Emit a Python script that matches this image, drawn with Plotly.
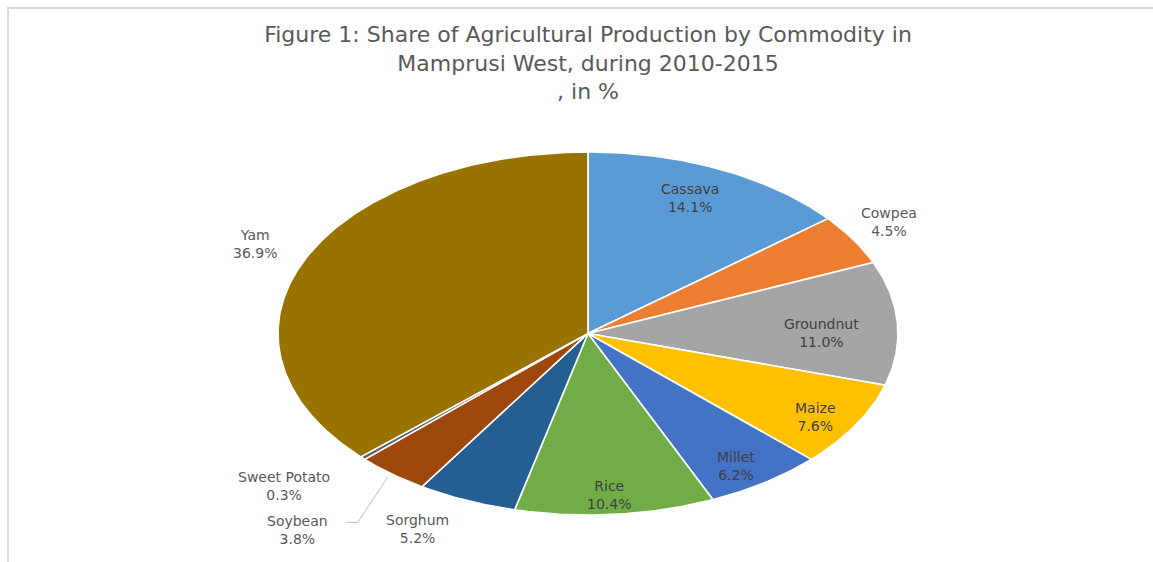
import numpy as np
import plotly.graph_objects as go

# ---- data ----
categories = ["Cassava", "Cowpea", "Groundnut", "Maize", "Millet", "Rice",
              "Sorghum", "Soybean", "Sweet Potato", "Yam"]
shares = [14.1, 4.5, 11.0, 7.6, 6.2, 10.4, 5.2, 3.8, 0.3, 36.9]

# ---- style ----
colors = ["#5B9BD5", "#ED7D31", "#A5A5A5", "#FFC000", "#4472C4", "#70AD47",
          "#255E91", "#9E480E", "#636363", "#997300"]
label_radius = [0.816, 1.15, 0.755, 0.867, 0.872, 0.89, 1.21, 1.43, 1.29, 1.18]
label_angle_shift = [-1.6, -1.1, 3.2, 1.8, 1.7, 0.6, 4.0, 1.7, 2.8, 1.0]
title_text = ("Figure 1: Share of Agricultural Production by Commodity in<br>"
              "Mamprusi West, during 2010-2015<br>, in %")

total = float(sum(shares))
fig = go.Figure()
annotations = []
start = 0.0
for i, (name, v, c) in enumerate(zip(categories, shares, colors)):
    a0 = start / total * 2 * np.pi
    a1 = (start + v) / total * 2 * np.pi
    t = np.linspace(a0, a1, max(4, int(v * 6)))
    xs = np.concatenate([[0.0], np.sin(t), [0.0]])
    ys = np.concatenate([[0.0], np.cos(t), [0.0]])
    fig.add_trace(go.Scatter(
        x=xs, y=ys, mode="lines", fill="toself", fillcolor=c,
        line=dict(color="white", width=1.6), name=name,
        hoveron="fills", hoverinfo="text", text=f"{name}: {v:.1f}%",
        showlegend=False))
    mid = (start + v / 2) / total * 360 + label_angle_shift[i]
    r = label_radius[i]
    lx = r * np.sin(np.radians(mid))
    ly = r * np.cos(np.radians(mid))
    inside = r < 1
    annotations.append(dict(
        x=lx, y=ly, xref="x", yref="y", showarrow=False,
        text=f"{name}<br>{v:.1f}%", align="center",
        font=dict(family="DejaVu Sans", size=14,
                  color="#404040" if inside else "#595959")))
    if name == "Soybean":
        mid_true = (start + v / 2) / total * 2 * np.pi
        sx, sy = 1.02 * np.sin(mid_true), 1.02 * np.cos(mid_true)
        fig.add_trace(go.Scatter(
            x=[sx, lx + 0.194, lx + 0.158], y=[sy, ly + 0.039, ly + 0.039],
            mode="lines", line=dict(color="#bfbfbf", width=1),
            hoverinfo="skip", showlegend=False))
    start += v

fig.update_layout(
    width=1153, height=562,
    margin=dict(l=0, r=0, t=0, b=0),
    paper_bgcolor="white", plot_bgcolor="white",
    title=dict(text=title_text, x=0.51, xanchor="center", xref="paper",
               y=1 - 42 / 562, yanchor="top", yref="container",
               font=dict(family="DejaVu Sans", size=22, color="#595959")),
    xaxis=dict(range=[-1.897, 1.823], visible=False, fixedrange=True),
    yaxis=dict(range=[-1.259, 1.837], visible=False, fixedrange=True),
    annotations=annotations,
    shapes=[dict(type="rect", xref="paper", yref="paper",
                 x0=8 / 1153, x1=1.05, y0=-0.05, y1=1 - 8 / 562,
                 line=dict(color="#d9d9d9", width=2), layer="below")],
    showlegend=False,
)

fig.write_html("out.html")
